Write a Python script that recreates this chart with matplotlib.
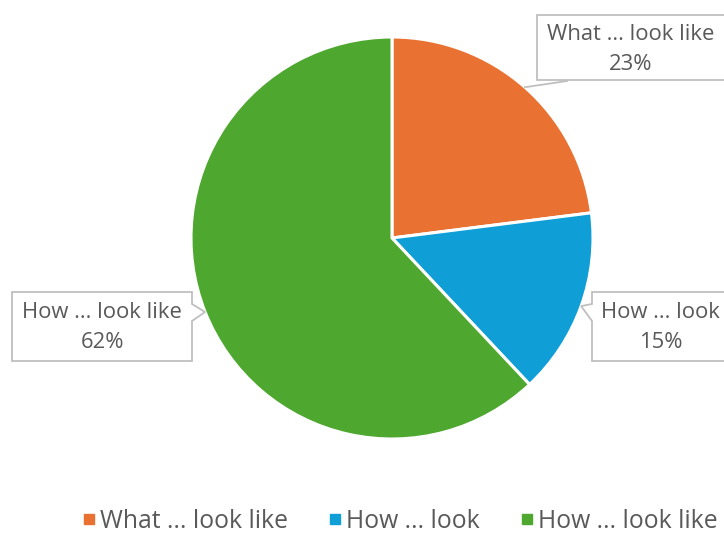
import numpy as np
import matplotlib
matplotlib.use("Agg")
import matplotlib.pyplot as plt
from matplotlib.patches import Polygon
from matplotlib.lines import Line2D

categories = ["What ... look like", "How ... look", "How ... look like"]
values = [23, 15, 62]
colors = ["#E97132", "#0F9ED5", "#4EA72E"]

W, H = 724, 535
FONT = "Open Sans"
TXT = "#595959"
BORDER = "#BFBFBF"

fig = plt.figure(figsize=(W / 100, H / 100), dpi=100)
cx, cy, r = 392, 238, 201
ax = fig.add_axes([(cx - r) / W, (H - cy - r) / H, 2 * r / W, 2 * r / H])
wedges, _ = ax.pie(values, colors=colors, startangle=90, counterclock=False,
                   radius=1, wedgeprops=dict(edgecolor="white", linewidth=2.2))
ax.set_xlim(-1, 1)
ax.set_ylim(-1, 1)
ax.set_aspect("equal")
ax.axis("off")

def fig_xy(px, py):
    return (px / W, 1 - py / H)

def tip(i):
    w = wedges[i]
    a = np.deg2rad((w.theta1 + w.theta2) / 2)
    d = ax.transData.transform((np.cos(a), np.sin(a)))
    return fig.transFigure.inverted().transform(d)

def add_poly(pts_px, extra=None):
    pts = [fig_xy(*p) for p in pts_px]
    if extra is not None:
        pts = pts[:extra[0]] + [tuple(extra[1])] + pts[extra[0]:]
    fig.add_artist(Polygon(pts, closed=True, facecolor="white", edgecolor=BORDER,
                           linewidth=1.3, transform=fig.transFigure, clip_on=False))

pcts = [f"{v}%" for v in values]
fs = 15.8

# Label 0 (top right)
add_poly([(537, 15), (740, 15), (740, 80), (537, 80)])
t0 = tip(0)
x0, y0 = fig_xy(567, 81)
fig.add_artist(Line2D([x0, t0[0]], [y0, t0[1]], color=BORDER, linewidth=1.3,
                      transform=fig.transFigure))
fig.text(*fig_xy(631, 35), categories[0], ha="center", va="center", fontsize=fs, color=TXT, family=FONT)
fig.text(*fig_xy(631, 64), pcts[0], ha="center", va="center", fontsize=fs, color=TXT, family=FONT)

# Label 1 (right)
add_poly([(592, 292), (740, 292), (740, 361), (592, 361), (592, 321), (592, 304)],
         extra=(5, tip(1)))
fig.text(*fig_xy(601, 313), categories[1], ha="left", va="center", fontsize=fs, color=TXT, family=FONT)
fig.text(*fig_xy(661, 342), pcts[1], ha="center", va="center", fontsize=fs, color=TXT, family=FONT)

# Label 2 (left)
add_poly([(12, 292), (192, 292), (192, 304), (192, 321), (192, 361), (12, 361)],
         extra=(3, tip(2)))
fig.text(*fig_xy(102, 313), categories[2], ha="center", va="center", fontsize=fs, color=TXT, family=FONT)
fig.text(*fig_xy(102, 342), pcts[2], ha="center", va="center", fontsize=fs, color=TXT, family=FONT)

handles = [plt.Line2D([], [], marker="s", linestyle="", markersize=6.5, color=c) for c in colors]
fig.legend(handles, categories, loc="center", bbox_to_anchor=(398 / W, 1 - 521 / H),
           ncol=3, frameon=False, prop=dict(family=FONT, size=17.8), labelcolor=TXT,
           handletextpad=0.05, columnspacing=1.5, handlelength=0.8, borderaxespad=0,
           borderpad=0.1)

fig.savefig("out.png", dpi=100)
